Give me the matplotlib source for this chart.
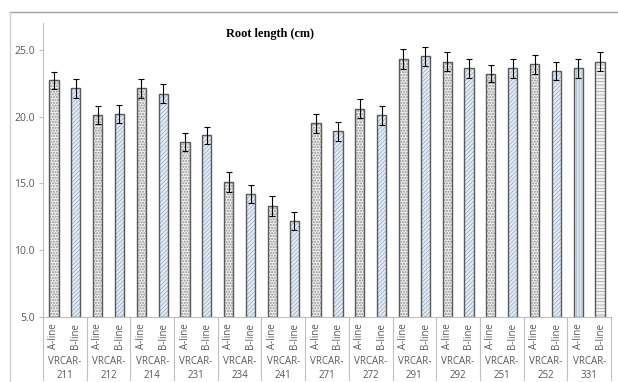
import numpy as np
import matplotlib
matplotlib.use('Agg')
import matplotlib.pyplot as plt
from matplotlib.lines import Line2D
import matplotlib.transforms as mtransforms

# Datos
genotipos = ['211', '212', '214', '231', '234', '241', '271',
             '272', '291', '292', '251', '252', '331']
lineas = ['A-line', 'B-line']
a_line = [22.7, 20.1, 22.1, 18.1, 15.1, 13.3, 19.5, 20.6, 24.3, 24.1, 23.2, 23.9, 23.6]
b_line = [22.1, 20.2, 21.7, 18.6, 14.2, 12.2, 18.9, 20.1, 24.5, 23.6, 23.6, 23.4, 24.1]
a_err = [0.67, 0.67, 0.74, 0.65, 0.72, 0.75, 0.72, 0.70, 0.75, 0.70, 0.65, 0.68, 0.72]
b_err = [0.68, 0.70, 0.72, 0.65, 0.70, 0.68, 0.70, 0.70, 0.72, 0.68, 0.68, 0.65, 0.70]
yticks = [5.0, 10.0, 15.0, 20.0, 25.0]

gris = '#595959'

plt.rcParams['font.family'] = ['Open Sans', 'DejaVu Sans']
plt.rcParams['hatch.linewidth'] = 0.5

fig = plt.figure(figsize=(6.18, 3.82), dpi=100)
ax = fig.add_axes([43/618, 1-317/382, (611-43)/618, (317-23)/382])

n = len(genotipos)
xa = np.arange(n)*2
xb = xa + 1
w = 0.42
# relleno y trama de cada barra
fondo_a = ['#ececec']*(n-1) + ['#dfe6ee']
fondo_b = ['#e4ebf3']*(n-1) + ['#f2f2f2']
hatch_a = ['oooooo']*(n-1) + ['||||||']
hatch_b = ['////////']*(n-1) + ['-----']
col_a = ['#b0b0b0']*(n-1) + ['#9fb3c8']
col_b = ['#8eaacb']*(n-1) + ['#9a9a9a']

for i in range(n):
    ax.bar(xa[i], a_line[i]-5, bottom=5, width=w, color=fondo_a[i],
           hatch=hatch_a[i], edgecolor=col_a[i], linewidth=0)
    ax.bar(xb[i], b_line[i]-5, bottom=5, width=w, color=fondo_b[i],
           hatch=hatch_b[i], edgecolor=col_b[i], linewidth=0)
ax.bar(xa, np.array(a_line)-5, bottom=5, width=w, fill=False,
       edgecolor=gris, linewidth=1.0)
ax.bar(xb, np.array(b_line)-5, bottom=5, width=w, fill=False,
       edgecolor=gris, linewidth=1.0)
ax.errorbar(xa, a_line, yerr=a_err, fmt='none', ecolor='black',
            elinewidth=0.8, capsize=2.5, capthick=0.8)
ax.errorbar(xb, b_line, yerr=b_err, fmt='none', ecolor='black',
            elinewidth=0.8, capsize=2.5, capthick=0.8)

ax.set_xlim(-0.5, 2*n-0.5)
ax.set_ylim(5, 27.0)
ax.set_yticks(yticks)
ax.set_yticklabels([f'{v:.1f}' for v in yticks], fontsize=7.5, color=gris)
ax.tick_params(axis='y', length=3, color='#bfbfbf', pad=3)
ax.set_xticks([])
for s in ['top', 'right']:
    ax.spines[s].set_visible(False)
for s in ['left', 'bottom']:
    ax.spines[s].set_color('#bfbfbf')
    ax.spines[s].set_linewidth(0.8)

# Etiquetas de dos niveles en el eje x
trans = mtransforms.blended_transform_factory(ax.transData, ax.transAxes)
for i in range(n):
    ax.text(xa[i], -0.065, lineas[0], rotation=90, ha='center', va='center',
            fontsize=7, color=gris, transform=trans)
    ax.text(xb[i], -0.065, lineas[1], rotation=90, ha='center', va='center',
            fontsize=7, color=gris, transform=trans)
    ax.text(xa[i]+0.5, -0.175, 'VRCAR-\n' + genotipos[i], ha='center',
            va='center', fontsize=7, color=gris, linespacing=1.35,
            transform=trans)
for xs in np.arange(n+1)*2 - 0.5:
    ax.plot([xs, xs], [0, -0.215], color='#bfbfbf', lw=0.8,
            transform=trans, clip_on=False)

fig.text(270/618, 1-34/382, 'Root length (cm)', ha='center', va='center',
         fontsize=8.8, fontweight='bold', family='Liberation Serif')

# Marco exterior
fig.add_artist(Line2D([10/618, 1], [1-12/382, 1-12/382],
                      color='#a0a0a0', lw=1.0))
fig.add_artist(Line2D([10/618, 10/618], [0, 1-12/382],
                      color='#d0d0d0', lw=1.0))

fig.savefig('out.png', dpi=100)
